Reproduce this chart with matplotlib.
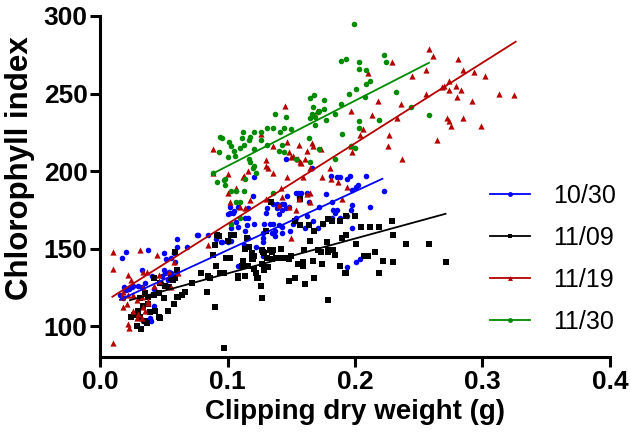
import matplotlib
matplotlib.use("Agg")
import matplotlib.pyplot as plt
from matplotlib.lines import Line2D

# clipping dry weight (g), chlorophyll index
blue_x = [0.016, 0.017, 0.018, 0.019, 0.020, 0.020, 0.021, 0.023, 0.025, 0.026, 0.030, 0.033, 0.033, 0.035,
          0.037, 0.034, 0.038, 0.039, 0.040, 0.041, 0.042, 0.042, 0.048, 0.049, 0.050, 0.050, 0.051, 0.052,
          0.053, 0.054, 0.056, 0.056, 0.057, 0.058, 0.059, 0.060, 0.060, 0.068, 0.076, 0.077, 0.085, 0.091,
          0.095, 0.096, 0.100, 0.100, 0.102, 0.102, 0.103, 0.103, 0.104, 0.105, 0.107, 0.108, 0.108, 0.108,
          0.113, 0.114, 0.114, 0.115, 0.116, 0.116, 0.116, 0.120, 0.121, 0.121, 0.122, 0.128, 0.128, 0.128,
          0.128, 0.129, 0.130, 0.130, 0.131, 0.133, 0.135, 0.136, 0.136, 0.137, 0.137, 0.139, 0.139, 0.140,
          0.140, 0.143, 0.143, 0.143, 0.143, 0.144, 0.146, 0.146, 0.147, 0.148, 0.149, 0.151, 0.153, 0.154,
          0.154, 0.155, 0.156, 0.158, 0.161, 0.162, 0.162, 0.164, 0.166, 0.167, 0.171, 0.172, 0.175, 0.177,
          0.181, 0.182, 0.182, 0.183, 0.184, 0.186, 0.186, 0.188, 0.188, 0.194, 0.194, 0.194, 0.196, 0.197,
          0.198, 0.198, 0.198, 0.201, 0.201, 0.202, 0.204, 0.209, 0.212, 0.223]
blue_y = [120, 144, 118, 125, 148, 123, 124, 124, 125, 126, 126, 136, 125, 128,
          103, 103, 149, 105, 103, 132, 124, 113, 128, 132, 136, 147, 134, 143,
          130, 135, 144, 134, 132, 147, 141, 156, 151, 151, 159, 159, 159, 156,
          154, 154, 154, 172, 177, 173, 155, 163, 173, 174, 167, 177, 164, 139,
          152, 161, 170, 165, 157, 170, 176, 184, 166, 196, 151, 154, 160, 157,
          145, 166, 161, 173, 176, 166, 160, 166, 179, 158, 161, 179, 176, 172,
          165, 175, 160, 164, 179, 179, 176, 208, 184, 177, 161, 166, 168, 170,
          186, 186, 183, 186, 163, 186, 171, 180, 202, 168, 163, 177, 166, 185,
          197, 180, 170, 175, 173, 196, 175, 170, 196, 195, 171, 138, 197, 175,
          188, 178, 163, 190, 141, 191, 143, 197, 177, 187]

black_x = [0.024, 0.027, 0.029, 0.030, 0.031, 0.031, 0.032, 0.034, 0.035, 0.035, 0.037, 0.038, 0.038, 0.039,
           0.042, 0.042, 0.043, 0.046, 0.046, 0.047, 0.047, 0.050, 0.051, 0.053, 0.054, 0.056, 0.057, 0.058,
           0.059, 0.059, 0.060, 0.060, 0.061, 0.064, 0.067, 0.072, 0.079, 0.084, 0.085, 0.086, 0.089, 0.090,
           0.090, 0.091, 0.092, 0.093, 0.094, 0.097, 0.097, 0.099, 0.100, 0.102, 0.103, 0.105, 0.108, 0.108,
           0.111, 0.112, 0.114, 0.114, 0.115, 0.116, 0.117, 0.119, 0.119, 0.120, 0.121, 0.121, 0.122, 0.123,
           0.124, 0.126, 0.127, 0.127, 0.127, 0.128, 0.129, 0.129, 0.130, 0.131, 0.132, 0.133, 0.134, 0.135,
           0.135, 0.136, 0.138, 0.142, 0.143, 0.145, 0.148, 0.148, 0.150, 0.153, 0.153, 0.155, 0.157, 0.157,
           0.159, 0.159, 0.160, 0.161, 0.164, 0.165, 0.167, 0.168, 0.168, 0.171, 0.173, 0.174, 0.175, 0.178,
           0.179, 0.179, 0.179, 0.179, 0.182, 0.183, 0.184, 0.188, 0.188, 0.190, 0.192, 0.193, 0.193, 0.193,
           0.200, 0.201, 0.205, 0.207, 0.210, 0.212, 0.216, 0.219, 0.219, 0.222, 0.229, 0.230, 0.230, 0.240,
           0.258, 0.271]
black_y = [106, 107, 100, 110, 118, 106, 98, 113, 121, 103, 102, 119, 114, 109,
           131, 120, 110, 121, 106, 128, 105, 118, 126, 110, 125, 131, 130, 114,
           148, 131, 136, 119, 119, 120, 122, 128, 134, 122, 132, 131, 146, 112,
           152, 139, 159, 158, 134, 134, 86, 144, 155, 144, 159, 159, 131, 132,
           139, 142, 150, 132, 157, 139, 151, 147, 143, 143, 137, 145, 134, 131,
           131, 126, 140, 118, 149, 148, 147, 136, 161, 144, 138, 149, 180, 143,
           148, 149, 144, 150, 144, 144, 143, 129, 145, 131, 168, 140, 182, 165,
           139, 141, 149, 127, 165, 155, 142, 161, 131, 149, 148, 140, 166, 154,
           149, 117, 169, 148, 168, 149, 146, 168, 139, 157, 134, 159, 171, 134,
           171, 153, 164, 145, 145, 164, 148, 164, 134, 142, 168, 159, 141, 153,
           153, 141]

red_x = [0.010, 0.010, 0.010, 0.031, 0.045, 0.022, 0.024, 0.034, 0.037, 0.034, 0.042, 0.046, 0.046, 0.054,
         0.056, 0.058, 0.061, 0.018, 0.017, 0.022, 0.026, 0.029, 0.033, 0.038, 0.018, 0.021, 0.026, 0.030,
         0.034, 0.038, 0.022, 0.023, 0.029, 0.035, 0.033, 0.085,
         0.089, 0.089, 0.100, 0.100, 0.102, 0.107, 0.110, 0.112, 0.113, 0.114, 0.116, 0.118, 0.126, 0.130,
         0.130, 0.130, 0.132, 0.136, 0.136, 0.140, 0.142, 0.143, 0.145, 0.147, 0.147, 0.148, 0.148, 0.150,
         0.150, 0.151, 0.154, 0.155, 0.156, 0.156, 0.157, 0.158, 0.159, 0.161, 0.162, 0.162, 0.165, 0.165,
         0.165, 0.166, 0.167, 0.170, 0.173, 0.174, 0.180, 0.181, 0.187, 0.190, 0.194, 0.197, 0.197, 0.198,
         0.204, 0.206, 0.210, 0.213, 0.218, 0.226, 0.227, 0.229, 0.233, 0.236, 0.237, 0.245, 0.256, 0.256,
         0.258, 0.261, 0.264, 0.268, 0.270, 0.272, 0.274, 0.274, 0.274, 0.275, 0.279, 0.280, 0.281, 0.283,
         0.285, 0.285, 0.292, 0.293, 0.299, 0.302, 0.313, 0.325]
red_y = [148, 137, 89, 149, 146, 133, 130, 135, 135, 125, 126, 133, 129, 135,
         125, 141, 134, 122, 119, 120, 120, 117, 119, 116, 112, 114, 110, 108,
         112, 115, 101, 99, 105, 110, 105, 152,
         214, 199, 198, 186, 180, 189, 177, 196, 197, 176, 200, 181, 224, 207,
         203, 182, 202, 216, 199, 178, 189, 183, 242, 219, 196, 212, 177, 209,
         157, 210, 175, 208, 217, 182, 206, 205, 196, 208, 213, 185, 202, 180,
         186, 218, 216, 239, 214, 196, 202, 195, 193, 182, 190, 239, 216, 212,
         223, 227, 263, 236, 245, 216, 223, 270, 234, 243, 208, 261, 265, 250,
         279, 274, 220, 254, 255, 234, 258, 252, 232, 229, 255, 248, 272, 252,
         265, 234, 245, 264, 229, 261, 250, 249]

green_x = [0.089, 0.092, 0.093, 0.094, 0.096, 0.097, 0.098, 0.098, 0.100, 0.101, 0.103, 0.103, 0.103, 0.105,
           0.106, 0.107, 0.107, 0.110, 0.110, 0.110, 0.111, 0.112, 0.113, 0.113, 0.114, 0.117, 0.117, 0.118,
           0.118, 0.120, 0.121, 0.121, 0.121, 0.122, 0.126, 0.126, 0.131, 0.131, 0.136, 0.136, 0.137, 0.140,
           0.141, 0.143, 0.144, 0.144, 0.146, 0.150, 0.154, 0.164, 0.165, 0.165, 0.165, 0.166, 0.167, 0.168,
           0.169, 0.169, 0.171, 0.172, 0.172, 0.176, 0.176, 0.177, 0.184, 0.184, 0.189, 0.189, 0.190, 0.193,
           0.195, 0.197, 0.200, 0.199, 0.201, 0.203, 0.203, 0.203, 0.203, 0.208, 0.209, 0.209, 0.212, 0.219,
           0.223, 0.224, 0.232, 0.244, 0.258]
green_y = [199, 193, 212, 222, 221, 194, 191, 195, 209, 219, 216, 187, 166, 213,
           210, 187, 180, 180, 215, 170, 221, 225, 217, 187, 195, 220, 208, 222,
           206, 202, 225, 214, 203, 199, 225, 220, 228, 217, 228, 186, 237, 213,
           225, 217, 228, 212, 235, 227, 208, 221, 247, 234, 206, 237, 241, 249,
           235, 230, 238, 239, 214, 240, 246, 233, 237, 208, 243, 271, 224, 272,
           250, 216, 215, 295, 253, 270, 266, 232, 228, 248, 256, 265, 258, 233,
           275, 270, 251, 241, 236]

# linear fits as drawn in the reference (end points)
blue_fit = ([0.0157, 0.2215], [117, 195])
black_fit = ([0.0235, 0.271], [116.7, 172.4])
red_fit = ([0.0097, 0.326], [118.9, 283.4])
green_fit = ([0.0893, 0.258], [198.7, 269.8])

labels = ["10/30", "11/09", "11/19", "11/30"]

RED = "#b40000"
BLUE = "#0000ff"
GREEN = "#008a00"

series = [
    (blue_x, blue_y, blue_fit, BLUE, "o", 16),
    (black_x, black_y, black_fit, "black", "s", 14),
    (red_x, red_y, red_fit, RED, "^", 20),
    (green_x, green_y, green_fit, GREEN, "o", 16),
]

fig = plt.figure(figsize=(6.31, 4.37), dpi=100)
ax = fig.add_axes([0.1585, 0.183, 0.8082, 0.7804])

handles = []
for (xs, ys, fit, col, mk, sz), lab in zip(series, labels):
    ax.scatter(xs, ys, s=sz, marker=mk, color=col, linewidths=0, zorder=3)
    ax.plot(fit[0], fit[1], color=col, lw=1.3, zorder=4)
    handles.append(Line2D([], [], color=col, lw=1.3, marker=mk, markersize=3.5,
                          markeredgewidth=0, label=lab))

ax.set_xlim(0, 0.4)
ax.set_ylim(80, 300)
ax.set_xticks([0.0, 0.1, 0.2, 0.3, 0.4])
ax.set_yticks([100, 150, 200, 250, 300])
ax.xaxis.set_major_formatter(matplotlib.ticker.FormatStrFormatter("%.1f"))

for side in ["top", "right"]:
    ax.spines[side].set_visible(False)
for side in ["left", "bottom"]:
    ax.spines[side].set_linewidth(2.2)

bold = dict(family="Liberation Sans", weight="bold")
ax.tick_params(length=7, width=2.2, pad=2, direction="out")
for t in ax.get_xticklabels() + ax.get_yticklabels():
    t.set_fontfamily("Liberation Sans")
    t.set_fontweight("bold")
    t.set_fontsize(19)

ax.set_xlabel("Clipping dry weight (g)", fontsize=20, labelpad=4, **bold)
ax.set_ylabel("Chlorophyll index", fontsize=22.5, **bold)
ax.yaxis.set_label_coords(-0.128, 0.554)

leg = ax.legend(handles=handles, loc="center left", bbox_to_anchor=(0.765, 0.287),
                frameon=False, borderpad=0, borderaxespad=0,
                handlelength=1.6, handletextpad=0.9, labelspacing=0.72,
                prop=dict(family="Liberation Sans", size=18))

fig.savefig("out.png", dpi=100)
